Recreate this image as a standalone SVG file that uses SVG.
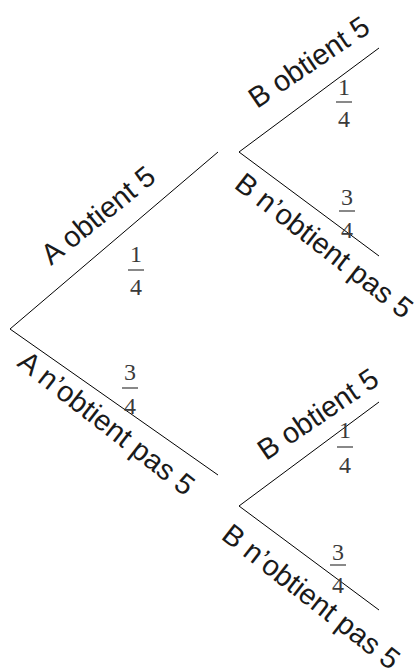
<svg xmlns="http://www.w3.org/2000/svg" width="417" height="669" viewBox="0 0 417 669">
<style>
.edge{stroke:#000;stroke-width:1;fill:none}
.lbl{font-family:"Liberation Sans",Arial,sans-serif;font-size:29px;fill:#1a1a1a}
.num{font-family:"Liberation Serif","Times New Roman",serif;font-size:24px;fill:#3a3a3a;text-anchor:middle}
.bar{stroke:#3a3a3a;stroke-width:1.2}
</style>
<rect width="417" height="669" fill="#fff"/>
<g id="connectors">
<path class="edge" d="M218,152 L10,329 L218,475"/>
<path class="edge" d="M379,48 L239,152 L379,256"/>
<path class="edge" d="M379,402 L239,506 L379,610"/>
</g>
<g id="A-obtient">
<text class="lbl" transform="translate(51,266) rotate(-39)">A obtient 5</text>
<text class="num" x="136" y="262">1</text><line class="bar" x1="128" y1="270" x2="144" y2="270"/><text class="num" x="136" y="295">4</text>
</g>
<g id="A-nobtient">
<text class="lbl" transform="translate(16,365) rotate(38)">A n’obtient pas 5</text>
<text class="num" x="130" y="380">3</text><line class="bar" x1="122" y1="388" x2="138" y2="388"/><text class="num" x="130" y="414">4</text>
</g>
<g id="B-obtient-1">
<text class="lbl" transform="translate(257,109) rotate(-34)">B obtient 5</text>
<text class="num" x="344" y="95">1</text><line class="bar" x1="336" y1="102" x2="352" y2="102"/><text class="num" x="344" y="127">4</text>
</g>
<g id="B-nobtient-1">
<text class="lbl" transform="translate(233,187) rotate(38)">B n’obtient pas 5</text>
<text class="num" x="347" y="205">3</text><line class="bar" x1="339" y1="211" x2="355" y2="211"/><text class="num" x="347" y="238">4</text>
</g>
<g id="B-obtient-2">
<text class="lbl" transform="translate(266,461) rotate(-34)">B obtient 5</text>
<text class="num" x="345" y="438">1</text><line class="bar" x1="337" y1="447" x2="353" y2="447"/><text class="num" x="345" y="473">4</text>
</g>
<g id="B-nobtient-2">
<text class="lbl" transform="translate(220,538) rotate(38)">B n’obtient pas 5</text>
<text class="num" x="338" y="560">3</text><line class="bar" x1="330" y1="565" x2="346" y2="565"/><text class="num" x="338" y="593">4</text>
</g>
</svg>
